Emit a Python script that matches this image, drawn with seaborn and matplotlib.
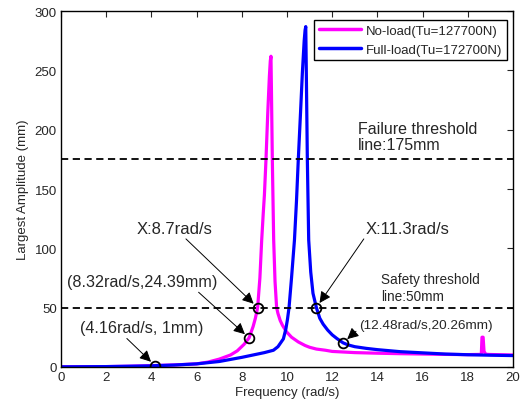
import numpy as np
import pandas as pd
import matplotlib
matplotlib.use("Agg")
import matplotlib.pyplot as plt
import seaborn as sns

# values
noload_freq = [0, 2, 3, 4, 5, 6, 6.5, 7, 7.5, 7.8, 8.1, 8.32, 8.5, 8.6, 8.7, 8.8, 8.88, 8.95, 9.0,
               9.07, 9.15, 9.22, 9.26, 9.29, 9.31, 9.35, 9.41, 9.47, 9.54, 9.6, 9.7, 9.8, 9.98,
               10.2, 10.5, 10.8, 11.0, 11.3, 11.7, 12, 12.5, 13, 14, 15, 16, 17, 18,
               18.6, 18.63, 18.68, 18.72, 18.8, 19, 20]
noload_amp = [0, 0.2, 0.5, 1.0, 1.6, 2.5, 4, 6.5, 10, 13.5, 19, 24.39, 34, 41, 50, 75, 107, 130, 145,
              175, 215, 245, 258, 262, 235, 175, 107, 72, 50, 45, 39, 35, 29.5,
              25, 21, 18, 16.5, 15, 14, 13, 12.5, 12, 11.5, 11.1, 10.8, 10.5, 10.3,
              10.5, 25, 25, 13, 10.6, 10.4, 10]

fullload_freq = [0, 2, 3, 4, 4.16, 5, 6, 7, 8, 8.5, 9, 9.4, 9.6, 9.84, 9.95, 10.02, 10.09, 10.2,
                 10.33, 10.42, 10.5, 10.6, 10.68, 10.76, 10.8, 10.83, 10.86, 10.9, 10.96, 11.05,
                 11.15, 11.3, 11.45, 11.6, 11.8, 12, 12.2, 12.48, 12.7, 13, 13.5, 14, 15, 16, 17,
                 18, 19, 20]
fullload_amp = [0, 0.2, 0.5, 0.8, 1, 1.5, 2.5, 4.5, 8, 10, 12, 14, 17, 23.6, 32, 40, 50, 75,
                107, 140, 175, 215, 248, 275, 284, 287, 240, 175, 107, 80,
                62, 50, 41, 36, 31, 27, 24, 20.26, 18.5, 17, 15.6, 14.5, 12.8, 11.8, 10.8,
                10.2, 9.8, 9.5]

mark_x = [4.16, 8.32, 8.7, 11.3, 12.48]
mark_y = [1, 24.39, 50, 50, 20.26]

labels = ["No-load(Tu=127700N)", "Full-load(Tu=172700N)"]

df = pd.concat([
    pd.DataFrame({"freq": noload_freq, "amp": noload_amp, "case": labels[0]}),
    pd.DataFrame({"freq": fullload_freq, "amp": fullload_amp, "case": labels[1]}),
])

sns.set_style("white")
plt.rcParams["font.family"] = ["Liberation Sans", "DejaVu Sans"]

fig = plt.figure(figsize=(5.31, 4.06), dpi=100)
ax = fig.add_axes([0.115, 0.094, 0.851, 0.876])

sns.lineplot(data=df, x="freq", y="amp", hue="case", sort=False,
             palette={labels[0]: "#ff00ff", labels[1]: "#0000ff"},
             linewidth=2.3, ax=ax)

# threshold lines
ax.axhline(175, color="k", ls="--", lw=1.3, dashes=(4, 2.5))
ax.axhline(50, color="k", ls="--", lw=1.3, dashes=(4, 2.5))

ax.plot(mark_x, mark_y, "o", mfc="none", mec="k", ms=7, mew=1.3, zorder=5)

arrow = dict(arrowstyle="-|>", color="k", lw=0.7, mutation_scale=17, shrinkA=0, shrinkB=4)
ax.annotate("X:8.7rad/s", xy=(8.7, 50), xytext=(3.35, 117), fontsize=12, va="center",
            arrowprops=arrow)
ax.annotate("X:11.3rad/s", xy=(11.3, 50), xytext=(13.5, 117), fontsize=12, va="center",
            arrowprops=dict(arrow, relpos=(0, 0)))
ax.annotate("(8.32rad/s,24.39mm)", xy=(8.32, 24.39), xytext=(0.27, 72), fontsize=11.6, va="center",
            arrowprops=dict(arrow, relpos=(0.85, 0)))
ax.annotate("(4.16rad/s, 1mm)", xy=(4.16, 1), xytext=(0.85, 33), fontsize=11.6, va="center",
            arrowprops=dict(arrow, relpos=(0.35, 0)))
ax.annotate("(12.48rad/s,20.26mm)", xy=(12.48, 20.26), xytext=(13.2, 35.5), fontsize=9.7, va="center",
            arrowprops=dict(arrow, relpos=(0, 0.2)))

ax.text(13.15, 194, "Failure threshold\nline:175mm", fontsize=11.5, va="center", linespacing=1.1)
ax.text(14.15, 67, "Safety threshold\nline:50mm", fontsize=9.8, va="center", linespacing=1.2)

ax.set_xlim(0, 20)
ax.set_ylim(0, 300)
ax.set_xticks(np.arange(0, 21, 2))
ax.set_yticks(np.arange(0, 301, 50))
ax.tick_params(direction="in", top=True, right=True, length=4, labelsize=9.5, pad=3)
ax.set_xlabel("Frequency (rad/s)", fontsize=9.5, labelpad=2)
ax.set_ylabel("Largest Amplitude (mm)", fontsize=9.5)
for s in ax.spines.values():
    s.set_color("k")
    s.set_linewidth(1.0)

leg = ax.legend(loc="upper right", fontsize=9.5, frameon=True, fancybox=False,
                framealpha=1, edgecolor="k", bbox_to_anchor=(0.987, 0.975),
                borderaxespad=0, handlelength=3.2, handletextpad=0.4,
                borderpad=0.35, labelspacing=0.5)
leg.set_title(None)
leg.get_frame().set_linewidth(1.0)
for h in leg.get_lines():
    h.set_linewidth(2.5)

fig.savefig("out.png", dpi=100)
